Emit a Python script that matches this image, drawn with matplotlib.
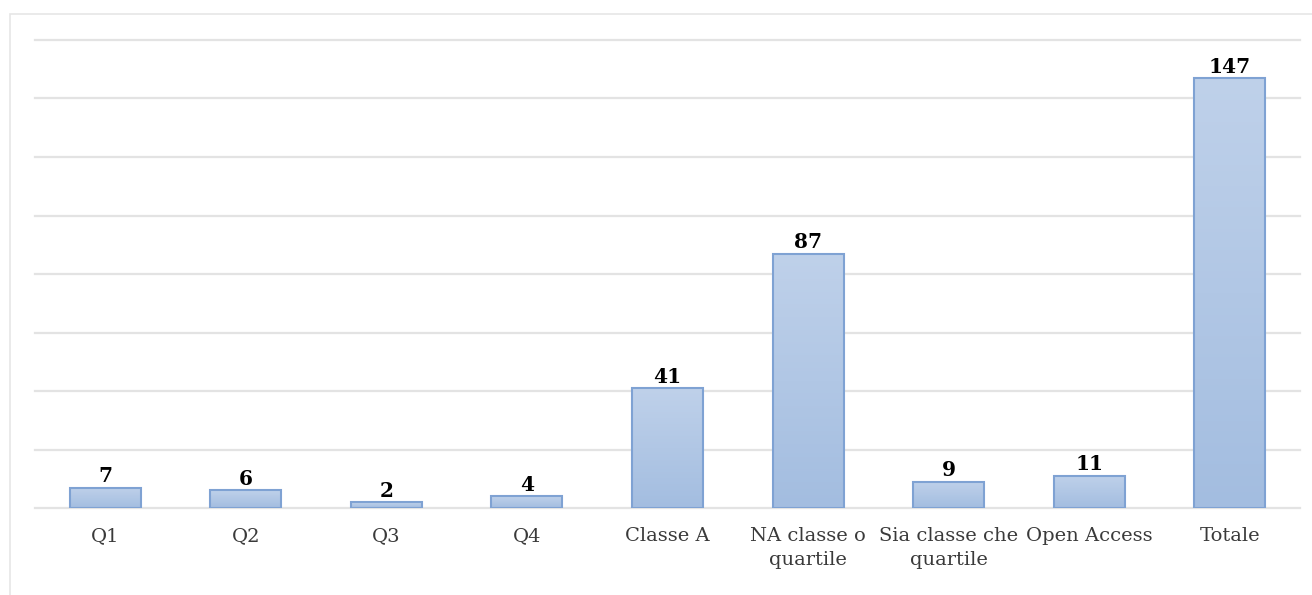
import numpy as np
import matplotlib
matplotlib.use("Agg")
from matplotlib import pyplot as plt
from matplotlib.patches import Rectangle

categories = ["Q1", "Q2", "Q3", "Q4", "Classe A", "NA classe o\nquartile",
              "Sia classe che\nquartile", "Open Access", "Totale"]
values = [7, 6, 2, 4, 41, 87, 9, 11, 147]

plt.rcParams['font.family'] = ['DejaVu Serif']

fig = plt.figure(figsize=(13.12, 5.95), dpi=100)
# outer chart frame (light grey border on top and left)
fig.add_artist(Rectangle((10 / 1312, -0.1), 1.2, (595 - 14) / 595 + 0.1,
                         transform=fig.transFigure, fill=False,
                         edgecolor="#e6e6e6", linewidth=1.2))

ax = fig.add_axes([35 / 1312, (595 - 508) / 595, 1265 / 1312, 468 / 595])
x = np.arange(len(categories))
bars = ax.bar(x, values, width=0.505, color="#b4c9e5", edgecolor="#7fa2d3",
              linewidth=1.5, zorder=3)

# vertical gradient inside each bar
grad = np.linspace(0, 1, 256).reshape(-1, 1)
cmap = matplotlib.colors.LinearSegmentedColormap.from_list("g", ["#a3bde0", "#bfd1ea"])
for b in bars:
    im = ax.imshow(grad, cmap=cmap, origin="lower", aspect="auto",
                   extent=[b.get_x(), b.get_x() + b.get_width(), 0, b.get_height()],
                   zorder=3)
    im.set_clip_path(b)
    b.set_facecolor("none")
    b.set_zorder(4)

for xi, v in zip(x, values):
    ax.annotate(str(v), (xi, v), xytext=(0, 1), textcoords="offset points",
                ha="center", va="bottom", fontsize=14.5, fontweight="bold",
                color="#000000")

ax.set_xlim(-0.5, len(categories) - 0.5)
ax.set_ylim(0, 160)
ax.set_yticks(np.arange(0, 161, 20))
ax.yaxis.grid(True, color="#e3e3e3", linewidth=1.6, zorder=0)
for gl in ax.get_ygridlines():
    gl.set_clip_on(False)
ax.set_axisbelow(True)
ax.tick_params(axis="y", left=False, labelleft=False)
ax.tick_params(axis="x", length=0, pad=14)
ax.set_xticks(x)
ax.set_xticklabels(categories, fontsize=14, color="#3a3a3a", linespacing=1.4)
for s in ax.spines.values():
    s.set_visible(False)

fig.savefig("out.png", dpi=100)
